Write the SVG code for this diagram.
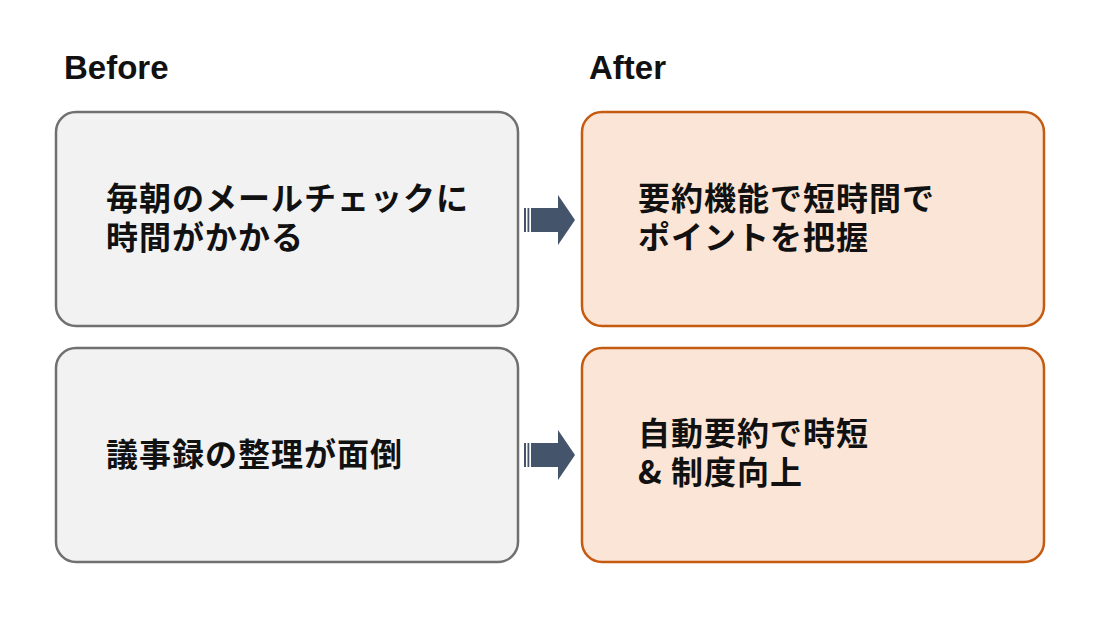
<svg xmlns="http://www.w3.org/2000/svg" width="1100" height="619" viewBox="0 0 1100 619">
<style>
.head{font-family:"Liberation Sans","Noto Sans",sans-serif;font-weight:bold;font-size:33px;fill:#111}
.t{font-family:"Noto Sans CJK JP","Noto Sans",sans-serif;font-weight:bold;font-size:32px;letter-spacing:1px;fill:#111}
.before{fill:#f2f2f2;stroke:#707070;stroke-width:2.5}
.after{fill:#fbe5d6;stroke:#c55a11;stroke-width:2.5}
.arr{fill:#44546a}
</style>
<defs>
<g id="arrow">
<rect x="524" y="-12" width="2" height="24"/>
<rect x="527.5" y="-12" width="1.8" height="24"/>
<polygon points="531,-12 558,-12 558,-25 575,0 558,25 558,12 531,12"/>
</g>
</defs>
<rect width="1100" height="619" fill="#ffffff"/>
<text class="head" x="64" y="79">Before</text>
<text class="head" x="589" y="79">After</text>
<g id="before1">
<rect class="before" x="56" y="112" width="462" height="214" rx="20"/>
<text class="t" x="106" y="210">毎朝のメールチェックに<tspan x="106" dy="39">時間がかかる</tspan></text>
</g>
<g id="before2">
<rect class="before" x="56" y="348" width="462" height="214" rx="20"/>
<text class="t" x="106" y="466">議事録の整理が面倒</text>
</g>
<g id="after1">
<rect class="after" x="582" y="112" width="462" height="214" rx="20"/>
<text class="t" x="638" y="210">要約機能で短時間で<tspan x="638" dy="39">ポイントを把握</tspan></text>
</g>
<g id="after2">
<rect class="after" x="582" y="348" width="462" height="214" rx="20"/>
<text class="t" x="638" y="445">自動要約で時短<tspan x="638" dy="39">&amp; 制度向上</tspan></text>
</g>
<g id="connectors" class="arr">
<use href="#arrow" transform="translate(0,220)"/>
<use href="#arrow" transform="translate(0,455)"/>
</g>
</svg>
